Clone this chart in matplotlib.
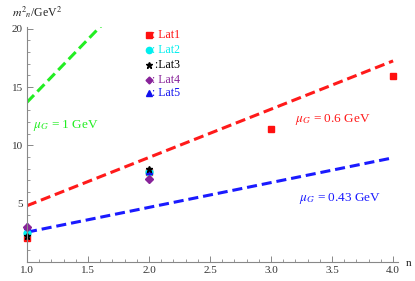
import numpy as np
import matplotlib
matplotlib.use("Agg")
import matplotlib.pyplot as plt
from matplotlib.ticker import MultipleLocator, FormatStrFormatter

# fitted lines m_n^2 = a + b n, end points
n_line = [1.0, 4.0]
red_line = [4.83, 17.25]      # mu_G = 0.6 GeV
blue_line = [2.56, 8.94]      # mu_G = 0.43 GeV
green_n = [1.0, 1.62]
green_line = [13.7, 20.4]     # mu_G = 1 GeV

# lattice points
lat1_n = [1, 2, 3, 4]
lat1_m2 = [2.1, 7.7, 11.4, 15.95]
lat2_n = [1, 2]
lat2_m2 = [2.5, 7.75]
lat3_n = [1, 2]
lat3_m2 = [2.2, 8.0]
lat4_n = [1, 2]
lat4_m2 = [3.0, 7.15]
lat5_n = [1, 2]
lat5_m2 = [3.1, 7.8]

plt.rcParams["font.family"] = ["Liberation Serif", "DejaVu Serif"]
plt.rcParams["mathtext.fontset"] = "stix"

fig = plt.figure(figsize=(4.15, 2.81), dpi=100)
ax = fig.add_axes([0.065, 0.0676, 0.894, 0.836])

dash = (0, (3.3, 1.6))
ax.plot(n_line, red_line, color="#ff1a1a", lw=2.2, ls=dash)
ax.plot(n_line, blue_line, color="#1a1aff", lw=2.2, ls=dash)
ax.plot(green_n, green_line, color="#22ee22", lw=2.2, ls=dash)

ms = 4.5
ax.plot(lat1_n, lat1_m2, "s", color="#ff1010", ms=ms, ls="none", clip_on=False)
ax.plot(lat2_n, lat2_m2, "o", color="#00eeee", ms=ms + 0.5, ls="none", clip_on=False)
ax.plot(lat5_n, lat5_m2, "^", color="#1010ee", ms=ms, ls="none", clip_on=False)
ax.plot(lat4_n, lat4_m2, "D", color="#882299", ms=ms - 0.8, ls="none", clip_on=False)
ax.plot(lat3_n, lat3_m2, "*", color="black", ms=ms, ls="none", clip_on=False)

# legend: markers + coloured text, placed by hand like the original
leg = [("s", "#ff1010", ": Lat1", ms - 0.5),
       ("o", "#00eeee", ": Lat2", ms),
       ("*", "black", " :Lat3", ms),
       ("D", "#882299", ": Lat4", ms - 1),
       ("^", "#1010ee", ": Lat5", ms - 0.5)]
ys = [0.875, 0.822, 0.769, 0.715, 0.669]
for (mk, c, txt, s), yy in zip(leg, ys):
    ax.plot([0.36], [yy], mk, color=c, ms=s, transform=fig.transFigure, clip_on=False)
    fig.text(0.366, yy, txt, color=c, fontsize=8.5, va="center", ha="left")

ax.text(1.05, 11.5, r"$\mu_G$ = 1 GeV", color="#22ee22", fontsize=9.5)
ax.text(3.2, 12.0, r"$\mu_G$ = 0.6 GeV", color="#ff1a1a", fontsize=9.5)
ax.text(3.23, 5.25, r"$\mu_G$ = 0.43 GeV", color="#1a1aff", fontsize=9.5)

ax.set_xlim(1.0, 4.04)
ax.set_ylim(0.0, 20.15)
ax.xaxis.set_major_locator(MultipleLocator(0.5))
ax.xaxis.set_minor_locator(MultipleLocator(0.1))
ax.yaxis.set_minor_locator(MultipleLocator(1))
ax.set_yticks([5, 10, 15, 20])
ax.xaxis.set_major_formatter(FormatStrFormatter("%.1f"))

for s in ["top", "right"]:
    ax.spines[s].set_visible(False)
for s in ["left", "bottom"]:
    ax.spines[s].set_color("#888888")
    ax.spines[s].set_linewidth(0.8)
ax.tick_params(which="both", direction="in", color="#888888", labelsize=8,
               labelcolor="#333333", pad=3)
ax.tick_params(which="major", length=4, width=0.7)
ax.tick_params(which="minor", length=2.2, width=0.6)

fig.text(0.03, 0.94, r"$m^2{}_n$/GeV$^2$", fontsize=8.5, color="#222222")
fig.text(0.985, 0.055, "n", fontsize=8, color="#222222", ha="center")

fig.savefig("out.png", dpi=100)
